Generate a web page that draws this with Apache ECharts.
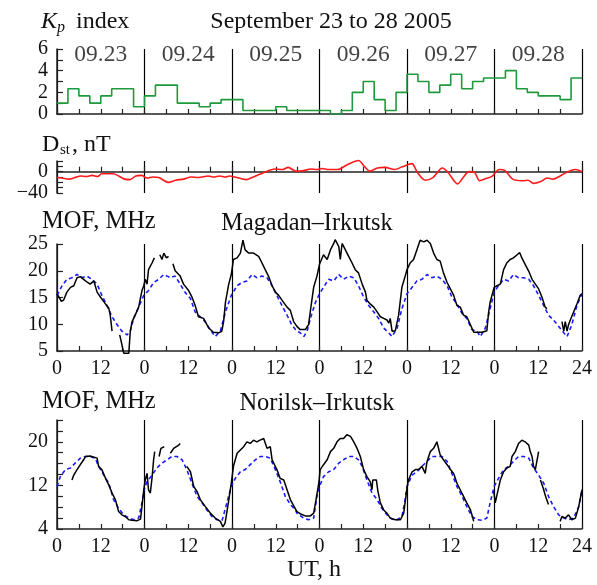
<!DOCTYPE html>
<html>
<head>
<meta charset="utf-8">
<script src="https://cdn.jsdelivr.net/npm/echarts@6/dist/echarts.min.js"></script>
<style>
html, body { margin: 0; padding: 0; background: #fff; }
#chart { width: 597px; height: 585px; }
</style>
</head>
<body>
<div id="chart"></div>
<script>
// 日期标签
var dayLabels = ['09.23', '09.24', '09.25', '09.26', '09.27', '09.28'];

// Kp, 3-hourly values
var kpValues = [
    1, 2.33, 1.67, 1, 1.67, 2.33, 2.33, 0.67,
    1.67, 2.67, 2.67, 1, 1, 0.67, 1, 1.33,
    1.33, 0.33, 0.33, 0.33, 0.67, 0.33, 0.33, 0.33,
    0.33, 0, 0.33, 2, 3, 1.33, 0.33, 2,
    3.67, 3, 2, 2.67, 3.67, 2.33, 3, 3.33,
    3.33, 4, 2.33, 2, 1.67, 1.67, 1.33, 3.33
];

// Dst, nT
var dstHours = [0, 1.3, 3.3, 4.9, 6.5, 8, 9.6, 11.2, 12.2, 13.8, 15.4, 16.9, 18.5, 20, 21.6, 23.2, 24.7, 26.3, 27.9, 30.5,
    32.6, 34.7, 36.8, 38.8, 41.5, 43, 44.6, 46.2, 47.3, 49.3, 51.9, 53.5, 55.6, 57.6, 59.7, 61.8, 63.4, 65.5, 67.6, 69.7,
    71.2, 72.8, 74.4, 77, 79.6, 82.7, 84.3, 85.8, 87.9, 90, 92.6, 94.7, 97.3, 98.9, 101, 103.1, 105.7, 107.2, 109.9, 111.4,
    113, 114.6, 115.9, 117.7, 119.3, 121.3, 122.9, 125, 127.6, 129.2, 130.7, 132.8, 134.4, 136, 138, 140.1, 142.2, 144];
var dstValues = [-11, -12, -14, -11, -8, -9, -7, -9, -4, -4, -4, -8, -14, -15, -8, -7, -12, -10, -11, -20,
    -16, -14, -10, -11, -8, -10, -8, -10, -8, -11, -15, -11, -5, 1, 5, 4, 8, 1, 2, 5,
    4, 6, 4, 4, 13, 21, 10, 1, 7, 8, 4, 9, 15, -2, -16, -11, 7, -1, -23, -11,
    0, -2, -17, -13, -9, 4, 2, -14, -17, -16, -22, -18, -12, -14, -8, 0, 4, 0];

// Magadan-Irkutsk MOF, observed (null = no data)
var magObsHours = [0, 0.5, 1.2, 1.8, 2.7, 3.7, 4.6, 5.5, 6.4, 7.3, 8.2, 9.1, 10.1, 11, 11.9, 13.3, 14.2, 14.6, 15.1, 15.5,
    17.2, 17.8, 18.3, 19.7, 20.1, 20.6, 21.5, 22.4, 23.3, 23.8, 24.2, 24.7, 25.1, 26.1, 26.7, 27.2,
    28.2, 28.8, 29.3, 30, 30.6, 31.2, 31.8, 32.4, 33.8, 34.7, 36.1, 37, 37.9, 38.8, 40.2, 41.6, 42.9, 44.3, 45.2, 45.7, 46.2, 47.1, 47.8,
    48.4, 49.4, 50.3, 51, 51.6, 52.6, 53.9, 55.3, 56.2, 57.1, 58, 59, 59.9, 60.8, 61.7, 63.1, 64, 64.9, 65.8, 66.7, 68.1, 69, 69.7, 70.4, 71.3, 72,
    73.1, 74.1, 75, 75.9, 76.3, 77.3, 77.7, 78.2, 79.1, 80, 80.9, 81.8, 82.7, 83.7, 84.6, 85, 85.9, 86.9, 87.8, 88.7, 89.6, 90.5, 91, 91.4, 91.9, 92.8, 93.7, 94.6, 95.5, 96,
    96.9, 97.8, 98.7, 99.6, 100.6, 101.5, 102.4, 103.3, 104.2, 105.1, 106, 107, 107.9, 108.8, 109.7, 110.6, 111.5, 112.4, 113.4, 114.3, 115.2, 116.6, 117.9, 118.4, 118.8, 119.3, 119.9,
    120.7, 121.6, 122.5, 123.4, 124.3, 125.2, 126.2, 126.9, 127.5, 128.4, 129.4, 130.3, 131.2, 132.1, 133, 133.9, 134.4, 135,
    138.5, 139, 139.4, 139.9, 140.3, 140.8, 141.7, 142.6, 143.5, 144];
var magObsMHz = [15.7, 15.1, 14.3, 14.5, 16, 16.9, 17.2, 18.7, 18.9, 18.4, 17.9, 17.5, 18.1, 16, 15.1, 13.8, 13, 11.7, 8.7, null,
    8, 6.2, 4.6, 4.6, 8.7, 10.5, 11.8, 13.2, 16.3, 17.2, 18.4, 17.5, 20.2, 21.5, 22.4, null,
    23, 22.1, 23.3, 22.4, 22.7, null, 21.3, 20, 19, 17.5, 16.3, 15.1, 13.5, 11.4, 11.1, 9.3, 8.5, 8.4, 8.7, 10.5, 14.1, 17.5, 19.3,
    22.1, 22.4, 23.3, 25.7, 23.9, 23.3, 23.3, 22.7, 21.5, 20.2, 19, 17.2, 16, 15.4, 14.5, 13.2, 12.6, 10.5, 9.6, 9, 9, 9.9, 13.5, 16.9, 19, 21.2,
    23, 22.1, 23.9, 25.1, 25.8, 24.5, 22.1, 25.1, 23.9, 22.7, 21.5, 20.2, 19.6, 17.5, 16, 14.5, 13.8, 13.2, 12.3, 11.4, 11.1, 10.8, 10.2, 11.1, 8.7, 8.8, 11.7, 16.9, 19, 20.2,
    21.5, 22.1, 23.9, 25.7, 25.4, 25.7, 25.1, 23.3, 22.1, 21.8, 19.6, 17.8, 16.6, 15.4, 13.5, 13.2, 11.7, 11.4, 9.9, 8.5, 8.5, 8.5, 8.8, 12.3, 14.1, 15.4, 16.9,
    17.2, 17.5, 20.2, 21.5, 22.1, 22.4, 23, 23.4, 22.4, 21.2, 19.9, 18.4, 17.5, 16.6, 15.1, 13.2, 12.9, null,
    10.5, 8.7, 10.5, 8.7, 9.9, 10.8, 12.3, 13.8, 15.4, 15.7];

// Magadan-Irkutsk MOF, median (dashed)
var magMedHours = [0, 1.4, 2.7, 4.1, 5.5, 6.9, 8.2, 9.6, 11, 12.3, 13.7, 15.1, 16.5, 17.8, 19.2, 20.1, 21, 22.4, 23.8,
    25.1, 26.5, 27.9, 29.3, 30.2, 31.1, 32.4, 33.8, 35.1, 36.6, 37.9, 39.3, 40.6, 42, 43.4, 44.8, 46.2, 47.8,
    49.4, 50.7, 52.1, 53.5, 54.8, 56.2, 57.6, 59, 60.3, 61.7, 63.1, 64.4, 65.4, 66.7, 67.7, 68.6, 69.5, 70.9, 72,
    73.1, 74.5, 75.9, 77.3, 78.6, 80, 81.4, 82.7, 84.1, 85.5, 86.9, 88.2, 89.6, 91, 91.9, 93.3, 94.6, 96,
    97.4, 98.7, 100.1, 101.5, 102.8, 104.2, 105.6, 107, 108.3, 109.7, 111.1, 112.4, 113.8, 115.2, 116.1, 117.5, 118.8, 119.9,
    121.1, 122.5, 123.9, 125.2, 126.6, 128, 129.4, 130.7, 132.1, 133.5, 134.8, 136.2, 137.6, 139, 139.9, 141.2, 142.6, 144];
var magMedMHz = [15.4, 17.2, 18.4, 18.7, 19.3, 18.7, 19, 18.4, 17.5, 15.4, 13.5, 11.4, 9.9, 8.7, 8, 8.7, 11.1, 13.2, 15.4,
    16.3, 17.8, 18.4, 19.3, 19, 18.7, 19, 17.5, 16, 14.8, 12.3, 11.4, 10.5, 9, 7.7, 8.7, 12.3, 15.4,
    17.2, 17.8, 18.1, 19.3, 18.7, 19, 18.7, 17.2, 15.4, 13.5, 11.7, 9.9, 9, 8.4, 7.7, 8.7, 11.1, 14.1, 15.7,
    16.9, 18.4, 18.1, 19.3, 18.4, 19, 18.7, 17.2, 15.1, 13.5, 12.3, 11.1, 9.3, 8.4, 7.7, 9.3, 12.9, 15.7,
    16.9, 18.1, 18.4, 19.3, 18.7, 19, 18.4, 17.2, 15.1, 13.8, 12, 11.1, 9, 8.7, 7.7, 9.3, 12.9, 16,
    17.2, 18.4, 18.1, 19.3, 18.7, 18.7, 18.4, 17.2, 15.4, 13.5, 11.7, 10.8, 9.6, 8.4, 7.7, 9.9, 13.5, 15.7];

// Norilsk-Irkutsk MOF, observed (null = no data)
var norObsHours = [4.1, 4.6, 5.5, 6.4, 7.3, 7.8, 9.1, 11, 11.4, 12.3, 13.3, 14.2, 15.1, 16, 16.9, 17.8, 18.7, 19.7, 20.6, 21.9, 22.9, 23.3, 23.8,
    24.2, 24.7, 25.1, 25.6, 26.1, 26.5, 26.8, 27.2, 28, 28.5, 29, 29.4, 29.7, 31.1, 32, 32.5, 33.4, 33.8, 34.2,
    35.6, 36.6, 37.5, 38.4, 39.3, 40.7, 42.1, 43.4, 44.8, 45.5, 46.1, 47, 47.8,
    48.4, 49.4, 50.3, 51.2, 52.1, 53, 53.9, 54.8, 55.7, 56.7, 57.6, 58.5, 59, 59.4, 60.3, 61.2, 62.2, 63.1, 64, 64.9, 65.8, 66.7, 68.1, 69.5, 70.4, 70.9, 71.8,
    72.2, 73.1, 74.1, 75, 75.9, 76.8, 77.7, 78.6, 79.5, 80.5, 81.4, 82.3, 83.2, 84.1, 85, 85.9, 86.4, 86.6, 87.6, 88, 88.7, 89.6, 90.5, 91.4, 92.8, 94.2, 95.1, 96,
    96.4, 97.4, 98.3, 99.2, 100.1, 101, 101.5, 102.4, 103.3, 104.2, 105.1, 106, 107, 107.9, 108.8, 109.7, 110.6, 111.5, 112.4, 113.4, 113.8, 114.3, 114.6,
    119.8, 120.2, 120.7, 121.6, 122.5, 123.4, 124.3, 124.8, 125.7, 126.6, 127.5, 128.4, 129.4, 129.8, 130.3, 130.7, 131.2, 132.1, 132.3,
    132.6, 133.5, 134, 134.8, 135.2, 138, 138.5, 139.4, 140.3, 141.2, 142.2, 143.1, 144];
var norObsMHz = [13, 13.9, 14.9, 15.8, 16.7, 17.3, 17.4, 17, 15.5, 14.9, 13.3, 12.1, 10.6, 9.4, 7.2, 6.6, 6.3, 5.7, 5.6, 5.5, 5.8, 8.1, 11.2,
    13, 14.2, 11.2, 10.6, 13.6, 16.7, 18.2, null, 17.3, 18.8, 18.5, 19.1, null, 17.9, 18.8, 18.5, 19.4, 19.7, null,
    15.5, 14.5, 11.8, 10.9, 9.4, 8.1, 6.9, 6, 5.4, 4.4, 5.1, 8.8, 12.4,
    15.5, 17.9, 18.5, 19.1, 20, 19.7, 20.3, 20, 20.3, 20.6, 18.8, 19.1, 16.7, 16.4, 14.9, 13.3, 13, 11.2, 9.4, 8.3, 7.2, 6.8, 6.4, 6.4, 6.9, 8.8, 12.4,
    14.9, 15.8, 16.7, 18.2, 18.8, 20, 20.6, 20.6, 21.3, 21, 20, 18.8, 17.3, 14.9, 13.6, 12.7, 11.2, 13, 13, 11, 8.8, 7.5, 6.9, 6, 5.7, 5.7, 6.9, 11.5,
    13, 14.5, 14.9, 14.9, 15.5, 14.2, 16.4, 18.2, 18.8, 20, 17.6, 16.7, 15.8, 14.9, 14.2, 12.4, 11.2, 10, 8.8, 7.5, 6.6, 5.4, null,
    10.9, 8.8, 8.5, 13, 14.5, 15.2, 15.5, 17.3, 18.2, 19.7, 20.3, 20, 19.4, 18.2, 17.3, 15.5, 14.9, 18.2, null,
    13, 11.2, 10, 8.5, null, 5.4, 6.3, 6, 6.6, 5.7, 6, 8.1, 11.2];

// Norilsk-Irkutsk MOF, median (dashed)
var norMedHours = [0, 0.9, 2.3, 3.7, 5, 6.4, 7.8, 9.1, 10.5, 11.4, 12.8, 14.2, 15.5, 16.9, 18.3, 19.7, 21, 22.4, 23.3, 23.9,
    24.7, 26.1, 27.4, 28.8, 30.2, 31.5, 32.9, 34.3, 35.6, 37, 38.4, 39.8, 41.1, 42.5, 43.9, 45.3, 46.6, 47.8,
    48.9, 50.3, 51.6, 53, 54.4, 55.8, 57.1, 58.5, 59.9, 61.2, 62.6, 64, 65.4, 65.8, 67.7, 69, 70.4, 71.3, 72,
    73.1, 74.5, 75.9, 77.3, 78.6, 80, 81.4, 82.7, 83.7, 85, 86.4, 87.8, 89.1, 90.5, 91.9, 93.3, 94.6, 95.5, 96,
    97.4, 98.7, 100.1, 101.5, 102.8, 104.2, 105.6, 107, 108.3, 109.7, 111.1, 112.4, 113.8, 115.2, 116.6, 117.9, 118.8, 119.9,
    121.1, 122.5, 123.9, 125.2, 126.6, 128, 129.4, 130.7, 132.1, 133.5, 134.8, 136.2, 137.6, 139, 140.3, 141.7, 143.1, 144];
var norMedMHz = [11.8, 13.6, 14.9, 15.2, 16.1, 17, 17.3, 17.3, 17, 15.5, 13.9, 12.4, 9.4, 7.8, 6.6, 6, 5.7, 6, 8.8, 11.2,
    12.7, 13.9, 15.2, 16.1, 16.7, 17.3, 17.3, 16.7, 14.9, 12.4, 10, 8.8, 7.5, 6.3, 5.7, 5.6, 8.8, 11.8,
    13.3, 14.5, 14.9, 15.8, 16.7, 17.3, 17.3, 17, 14.9, 12.7, 10, 8.5, 7.5, 6.9, 6, 5.7, 6, 10, 11.8,
    13.6, 14.5, 14.9, 16.1, 16.7, 17.3, 17.3, 16.7, 15.5, 13, 10.6, 9.4, 7.8, 6.6, 5.8, 5.7, 6.3, 9.4, 11.8,
    13.9, 14.5, 15.5, 16.4, 17.3, 17.3, 17.3, 16.4, 14.2, 11.8, 10, 8.1, 6.3, 5.7, 5.6, 6, 8.8, 11.8,
    13.3, 14.9, 15.5, 16.4, 17.3, 17.3, 17, 15.2, 13.9, 12.4, 10, 8.1, 6.6, 6, 5.7, 6, 8.1, 11.2];

var FONT = 'Liberation Serif';
var AXIS_COLOR = '#222';

function zip(xs, ys) {
    var out = [];
    for (var i = 0; i < xs.length; i++) {
        out.push([xs[i], ys[i]]);
    }
    return out;
}

// 横轴：0 12 0 12 ... 24
function hourLabel(v) {
    if (v % 12 !== 0) return '';
    if (v === 144) return '24';
    return (v % 24 === 0) ? '0' : '12';
}

function mainX(grid, showLabel) {
    return {
        type: 'value', gridIndex: grid, min: 0, max: 144, interval: 6,
        axisLine: { show: true, onZero: grid === 1, lineStyle: { color: AXIS_COLOR, width: 1.5 } },
        axisTick: { show: true, inside: true, length: 5, lineStyle: { color: AXIS_COLOR, width: 1.2 } },
        axisLabel: { show: showLabel, formatter: hourLabel, color: '#111', fontFamily: FONT, fontSize: 20, margin: 8 },
        splitLine: { show: false }
    };
}

// 每天的分隔竖线
function dayX(grid) {
    return {
        type: 'value', gridIndex: grid, min: 0, max: 144, interval: 24,
        axisLine: { show: false }, axisTick: { show: false }, axisLabel: { show: false },
        splitLine: { show: true, lineStyle: { color: '#000', width: 1.2 } }
    };
}

function mainY(grid, min, max, interval, fmt) {
    return {
        type: 'value', gridIndex: grid, min: min, max: max, interval: interval,
        axisLine: { show: true, lineStyle: { color: AXIS_COLOR, width: 1.5 } },
        axisTick: { show: true, inside: true, length: 6, lineStyle: { color: AXIS_COLOR, width: 1.2 } },
        axisLabel: { formatter: fmt, color: '#111', fontFamily: FONT, fontSize: 20, margin: 9 },
        splitLine: { show: false }
    };
}

// 文字，(x, y) 为锚点
function txt(x, y, s, size, opts) {
    opts = opts || {};
    return {
        type: 'text', x: x, y: y,
        style: {
            text: s, fill: '#111', fontFamily: FONT, fontSize: size,
            fontStyle: opts.italic ? 'italic' : 'normal',
            align: opts.align || 'left', verticalAlign: 'middle'
        }
    };
}

var kpData = kpValues.map(function (v, i) { return [i * 3, v]; });
kpData.push([144, kpValues[kpValues.length - 1]]);

var dayLabelData = dayLabels.map(function (d, i) { return [12 + i * 24, 5.45, d]; });

var myChart = echarts.init(document.getElementById('chart'));
var option = {
    backgroundColor: '#fff',
    animation: false,
    grid: [
        { left: 57, right: 15, top: 49, height: 65 },
        { left: 57, right: 15, top: 161, height: 32 },
        { left: 57, right: 15, top: 244, height: 107 },
        { left: 57, right: 15, top: 420, height: 109 }
    ],
    xAxis: [mainX(0, false), mainX(1, false), mainX(2, true), mainX(3, true), dayX(0), dayX(1), dayX(2), dayX(3)],
    yAxis: [
        mainY(0, 0, 6, 1, function (v) { return v % 2 ? '' : String(v); }),
        mainY(1, -40, 20, 10, function (v) { return v === 0 ? '0' : (v === -40 ? '\u221240' : ''); }),
        mainY(2, 5, 25, 5, function (v) { return String(v); }),
        mainY(3, 4, 24, 2, function (v) { return (v === 4 || v === 12 || v === 20) ? String(v) : ''; })
    ],
    series: [
        {
            name: 'Kp', type: 'line', xAxisIndex: 0, yAxisIndex: 0, step: 'end', showSymbol: false,
            data: kpData, lineStyle: { color: '#1e9a3c', width: 1.6 }
        },
        {
            name: 'days', type: 'scatter', xAxisIndex: 0, yAxisIndex: 0, symbolSize: 0, silent: true,
            data: dayLabelData,
            label: {
                show: true, position: 'inside', formatter: function (p) { return p.data[2]; },
                color: '#111', fontFamily: FONT, fontSize: 23.5
            }
        },
        {
            name: 'Dst', type: 'line', xAxisIndex: 1, yAxisIndex: 1, showSymbol: false, clip: false, smooth: 0.3,
            data: zip(dstHours, dstValues), lineStyle: { color: '#ff1a1a', width: 1.6 }
        },
        {
            name: 'Magadan median', type: 'line', xAxisIndex: 2, yAxisIndex: 2, showSymbol: false,
            data: zip(magMedHours, magMedMHz), lineStyle: { color: '#1a1aff', width: 1.6, type: [4, 3] }
        },
        {
            name: 'Magadan', type: 'line', xAxisIndex: 2, yAxisIndex: 2, showSymbol: false, clip: false,
            data: zip(magObsHours, magObsMHz), lineStyle: { color: '#000', width: 1.5 }
        },
        {
            name: 'Norilsk median', type: 'line', xAxisIndex: 3, yAxisIndex: 3, showSymbol: false,
            data: zip(norMedHours, norMedMHz), lineStyle: { color: '#1a1aff', width: 1.6, type: [4, 3] }
        },
        {
            name: 'Norilsk', type: 'line', xAxisIndex: 3, yAxisIndex: 3, showSymbol: false,
            data: zip(norObsHours, norObsMHz), lineStyle: { color: '#000', width: 1.5 }
        }
    ],
    graphic: [
        txt(41, 22, 'K', 24, { italic: true }),
        txt(57, 28, 'p', 16, { italic: true }),
        txt(76, 22, 'index', 24),
        txt(331, 22, 'September 23 to 28 2005', 24, { align: 'center' }),
        txt(42, 145, 'D', 24),
        txt(60, 150, 'st', 15),
        txt(72, 145, ', nT', 24),
        txt(42, 222, 'MOF, MHz', 24.5),
        txt(307, 224, 'Magadan\u2013Irkutsk', 24.3, { align: 'center' }),
        txt(42, 402, 'MOF, MHz', 24.5),
        txt(317, 404, 'Norilsk\u2013Irkutsk', 24.5, { align: 'center' }),
        txt(314, 570, 'UT, h', 24, { align: 'center' })
    ]
};
myChart.setOption(option);
</script>
</body>
</html>
